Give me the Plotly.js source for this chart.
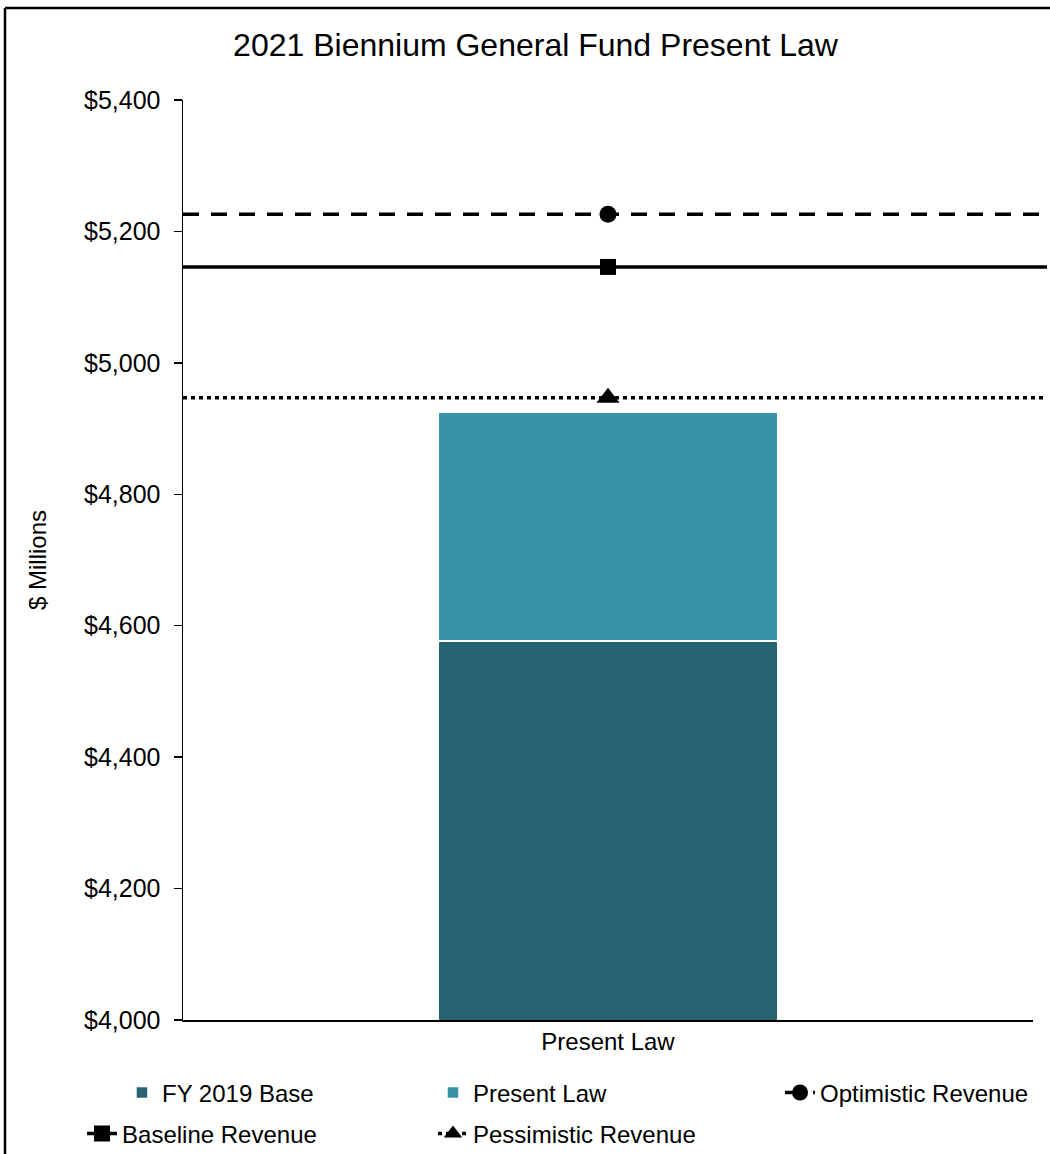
<!DOCTYPE html>
<html>
<head>
<meta charset="utf-8">
<script src="https://cdn.plot.ly/plotly-3.0.1.min.js"></script>
<style>
  html, body { margin: 0; padding: 0; background: #ffffff; }
  #chart { width: 1050px; height: 1154px; }
</style>
</head>
<body>
<div id="chart"></div>
<script>
// ---- data ----
const categories = ['Present Law'];
const baseValues = [4577];          // FY 2019 Base
const presentLawValues = [348];     // Present Law increment (stacked)
const optimisticRevenue = [5226];
const baselineRevenue = [5146];
const pessimisticRevenue = [4947];
const yTickVals = [4000, 4200, 4400, 4600, 4800, 5000, 5200, 5400];

const FONT = 'Liberation Sans, Arial, sans-serif';
const DARK = '#266373';
const LIGHT = '#3a92aa';

const traces = [
  {
    type: 'bar', name: 'FY 2019 Base', x: categories, y: baseValues,
    marker: { color: DARK, line: { color: '#ffffff', width: 1.5 } },
    width: 0.4, hoverinfo: 'y+name', legend: 'legend'
  },
  {
    type: 'bar', name: 'Present Law', x: categories, y: presentLawValues,
    marker: { color: LIGHT, line: { color: '#ffffff', width: 1.5 } },
    width: 0.4, hoverinfo: 'y+name', legend: 'legend2'
  },
  {
    type: 'scatter', mode: 'lines+markers', name: 'Optimistic Revenue',
    x: categories, y: optimisticRevenue,
    line: { color: '#000', width: 3.5, dash: '16px,12px' },
    marker: { symbol: 'circle', size: 17, color: '#000' }, legend: 'legend3'
  },
  {
    type: 'scatter', mode: 'lines+markers', name: 'Baseline Revenue',
    x: categories, y: baselineRevenue,
    line: { color: '#000', width: 3.5 },
    marker: { symbol: 'square', size: 16, color: '#000' }, legend: 'legend4'
  },
  {
    type: 'scatter', mode: 'lines+markers', name: 'Pessimistic Revenue',
    x: categories, y: pessimisticRevenue,
    line: { color: '#000', width: 3.5, dash: '4px,4px' },
    marker: { symbol: 'triangle-up', size: 20, color: '#000' }, legend: 'legend5'
  }
];

// horizontal reference lines across the plot, at the revenue values
const lineSpecs = [
  { v: optimisticRevenue[0], dash: '16px,12px' },
  { v: baselineRevenue[0], dash: 'solid' },
  { v: pessimisticRevenue[0], dash: '4px,4px' }
];
const shapes = lineSpecs.map(s => ({
  type: 'line', xref: 'paper', yref: 'y', x0: 0, x1: 1.0165, y0: s.v, y1: s.v,
  line: { color: '#000', width: 3.5, dash: s.dash }, layer: 'below'
}));
// chart frame (top and left edges)
shapes.push({ type: 'line', xref: 'paper', yref: 'paper', x0: -0.2094, x1: 1.03, y0: 1.1, y1: 1.1, line: { color: '#000', width: 2.5 } });
shapes.push({ type: 'line', xref: 'paper', yref: 'paper', x0: -0.2094, x1: -0.2094, y0: 1.1, y1: -0.2, line: { color: '#000', width: 2.5 } });

function leg(x, y) {
  return {
    orientation: 'h', x: x, xanchor: 'left', y: y, yanchor: 'top',
    font: { family: FONT, size: 24, color: '#000' },
    bgcolor: 'rgba(0,0,0,0)'
  };
}

const layout = {
  width: 1050, height: 1154,
  margin: { l: 183, r: 17, t: 100, b: 134, autoexpand: false },
  paper_bgcolor: '#ffffff', plot_bgcolor: '#ffffff',
  font: { family: FONT, color: '#000', size: 24 },
  title: {
    text: '2021 Biennium General Fund Present Law',
    font: { family: FONT, size: 32, color: '#000' },
    xref: 'container', x: 0.51, xanchor: 'center',
    yref: 'container', y: 1 - 45 / 1154, yanchor: 'middle'
  },
  barmode: 'stack',
  bargap: 0.6,
  xaxis: {
    type: 'category', showline: true, linecolor: '#000', linewidth: 1.5,
    ticks: '', showgrid: false, zeroline: false,
    tickfont: { family: FONT, size: 24, color: '#000' },
    range: [-0.5, 0.5], fixedrange: true
  },
  yaxis: {
    range: [4000, 5400], tickvals: yTickVals, tickformat: '$,.0f',
    showline: true, linecolor: '#000', linewidth: 1.5,
    ticks: 'outside', ticklen: 8, tickwidth: 1.5, tickcolor: '#000',
    ticklabelstandoff: 8,
    showgrid: false, zeroline: false,
    tickfont: { family: FONT, size: 25, color: '#000' },
    title: { text: '$ Millions', font: { family: FONT, size: 24, color: '#000' }, standoff: 30 },
    automargin: false
  },
  legend: leg(-0.0718, -0.0548),
  legend2: leg(0.2941, -0.0548),
  legend3: leg(0.7024, -0.0548),
  legend4: leg(-0.1188, -0.0993),
  legend5: leg(0.2941, -0.0993),
  shapes: shapes,
  showlegend: true
};

Plotly.newPlot('chart', traces, layout, { displayModeBar: false, staticPlot: true });
</script>
</body>
</html>
